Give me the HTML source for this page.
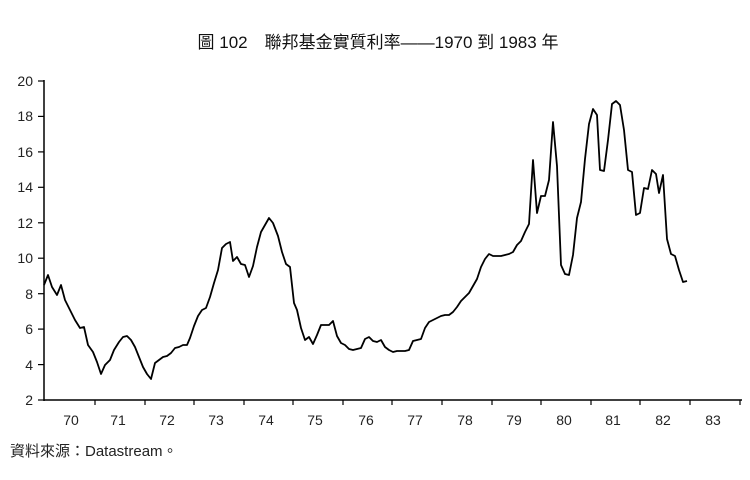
<!DOCTYPE html>
<html><head><meta charset="utf-8"><style>
body{margin:0;background:#fff;width:750px;height:475px;overflow:hidden;font-family:"Liberation Sans","Noto Sans CJK TC",sans-serif;}
</style></head><body>
<svg width="750" height="475" xmlns="http://www.w3.org/2000/svg" font-family="Liberation Sans, Noto Sans CJK TC, sans-serif">
<text x="378" y="48" font-size="17" text-anchor="middle" fill="#111">圖 102　聯邦基金實質利率——1970 到 1983 年</text>
<g stroke="#000" stroke-width="1.5" fill="none">
<line x1="44" y1="80" x2="44" y2="401"/>
<line x1="44" y1="400" x2="742" y2="400"/>
</g>
<g stroke="#000" stroke-width="1.2">
<line x1="38" y1="81" x2="44" y2="81"/><line x1="38" y1="116.4" x2="44" y2="116.4"/><line x1="38" y1="151.9" x2="44" y2="151.9"/><line x1="38" y1="187.3" x2="44" y2="187.3"/><line x1="38" y1="222.8" x2="44" y2="222.8"/><line x1="38" y1="258.2" x2="44" y2="258.2"/><line x1="38" y1="293.7" x2="44" y2="293.7"/><line x1="38" y1="329.1" x2="44" y2="329.1"/><line x1="38" y1="364.6" x2="44" y2="364.6"/><line x1="38" y1="400" x2="44" y2="400"/>
<line x1="95" y1="400" x2="95" y2="405"/><line x1="145" y1="400" x2="145" y2="405"/><line x1="194" y1="400" x2="194" y2="405"/><line x1="244" y1="400" x2="244" y2="405"/><line x1="293" y1="400" x2="293" y2="405"/><line x1="343" y1="400" x2="343" y2="405"/><line x1="392" y1="400" x2="392" y2="405"/><line x1="442" y1="400" x2="442" y2="405"/><line x1="492" y1="400" x2="492" y2="405"/><line x1="541" y1="400" x2="541" y2="405"/><line x1="591" y1="400" x2="591" y2="405"/><line x1="640" y1="400" x2="640" y2="405"/><line x1="690" y1="400" x2="690" y2="405"/><line x1="740" y1="400" x2="740" y2="405"/>
</g>
<g font-size="14" fill="#222" text-anchor="end">
<text x="33" y="86">20</text><text x="33" y="121">18</text><text x="33" y="157">16</text><text x="33" y="192">14</text><text x="33" y="228">12</text><text x="33" y="263">10</text><text x="33" y="299">8</text><text x="33" y="334">6</text><text x="33" y="370">4</text><text x="33" y="405">2</text>
</g>
<g font-size="14" fill="#222" text-anchor="middle">
<text x="71" y="425">70</text><text x="118" y="425">71</text><text x="167" y="425">72</text><text x="216" y="425">73</text><text x="266" y="425">74</text><text x="315" y="425">75</text><text x="366" y="425">76</text><text x="415" y="425">77</text><text x="465" y="425">78</text><text x="514" y="425">79</text><text x="564" y="425">80</text><text x="613" y="425">81</text><text x="663" y="425">82</text><text x="713" y="425">83</text>
</g>
<polyline fill="none" stroke="#000" stroke-width="1.8" stroke-linejoin="round" points="44,285 48,275 52,287 57,295 61,285 65,300 70,310 75,320 80,328 84,327 88,345 93,352 97,362 101,374 105,365 110,360 114,350 119,342 123,337 127,336 131,340 135,347 139,357 143,367 147,374 151,379 155,363 159,360 163,357 167,356 171,353 175,348 179,347 183,345 187,345 190,338 194,326 198,316 202,310 206,308 210,297 214,283 218,270 222,248 226,244 230,242 233,261 237,257 241,264 245,265 249,277 253,266 257,247 261,232 265,225 269,218 273,223 278,236 282,252 286,264 290,267 294,303 297,310 301,328 305,340 309,337 313,344 317,335 321,325 325,325 329,325 333,321 337,336 341,343 345,345 349,349 353,350 357,349 361,348 365,339 369,337 373,341 377,342 381,340 385,347 389,350 393,352 397,351 401,351 405,351 409,350 413,341 417,340 421,339 425,328 429,322 433,320 437,318 441,316 445,315 449,315 453,312 457,307 461,301 465,297 469,293 473,286 477,279 481,267 485,259 489,254 493,256 497,256 501,256 505,255 509,254 513,252 517,245 521,241 525,232 529,224 533,160 537,213 541,196 545,196 549,180 553,122 557,166 561,265 565,274 569,275 573,255 577,218 581,202 585,159 589,124 593,109 597,115 600,170 604,171 608,140 612,104 616,101 620,105 624,130 628,170 632,172 636,215 640,213 644,188 648,189 652,170 656,174 659,193 663,175 667,239 671,254 675,256 679,270 683,282 687,281"/>
<text x="10" y="456" font-size="15" fill="#222">資料來源：Datastream。</text>
</svg>
</body></html>
